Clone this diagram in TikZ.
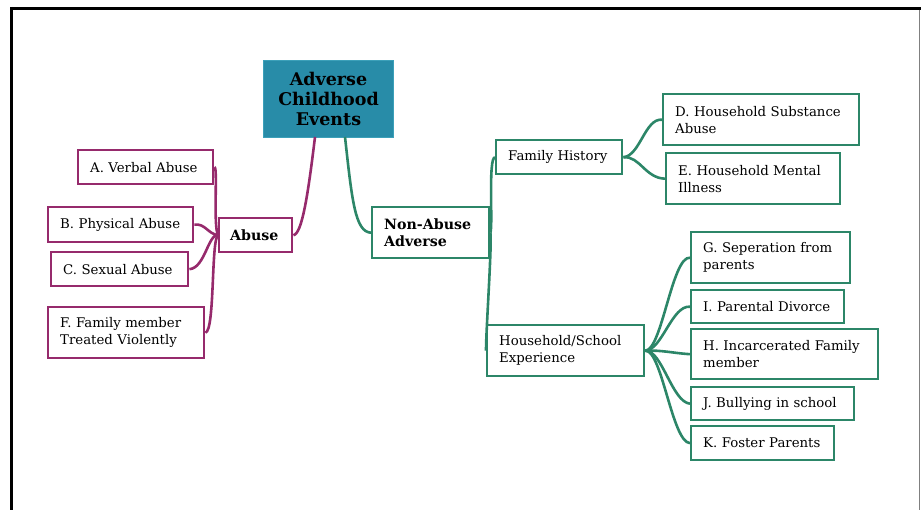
\documentclass[tikz,border=0pt]{standalone}
\usepackage{fontspec}
\setmainfont{DejaVu Serif}
\definecolor{purp}{RGB}{150,42,108}
\definecolor{grn}{RGB}{44,134,104}
\definecolor{teal1}{RGB}{40,140,168}
\definecolor{teal2}{RGB}{60,160,185}
\newcommand{\regf}{\fontsize{13.3}{17}\selectfont}
\newcommand{\boldf}{\fontsize{14.2}{17}\selectfont\bfseries}
\newcommand{\rootf}{\fontsize{17.5}{20}\selectfont\bfseries}
\tikzset{
  pbox/.style={draw=purp, line width=2.4pt, fill=white, inner xsep=12pt, inner ysep=0pt, align=left, font=\regf, anchor=north west},
  gbox/.style={draw=grn, line width=2.4pt, fill=white, inner xsep=12pt, inner ysep=0pt, align=left, font=\regf, anchor=north west},
  pline/.style={draw=purp, line width=2.6pt},
  gline/.style={draw=grn, line width=2.6pt},
}
\begin{document}
\begin{tikzpicture}[x=1pt,y=-1pt]
\useasboundingbox (0,0) rectangle (921,510);
% frame
\draw[line width=3pt] (10,8.5) -- (921,8.5);
\draw[line width=3pt] (11.5,7) -- (11.5,510);
\draw[gray, line width=1.5pt] (919.5,10) -- (919.5,510);

\coordinate (rs1) at (315,137);
\coordinate (rs2) at (345,137);

% nodes
\node[draw=teal2, fill=teal1, line width=1pt, minimum width=130pt, minimum height=77pt, anchor=north west, align=center, font=\rootf, inner sep=0pt] (root) at (263,60) {Adverse\\Childhood\\Events};

\node[pbox, minimum width=135pt, minimum height=34pt, text width=111pt] (A) at (77,149) {A. Verbal Abuse};
\node[pbox, minimum width=145pt, minimum height=35pt, text width=121pt] (B) at (47,206) {B. Physical Abuse};
\node[pbox, minimum width=137pt, minimum height=34pt, text width=113pt] (C) at (50,251) {C. Sexual Abuse};
\node[pbox, minimum width=156pt, minimum height=51pt, text width=132pt] (F) at (47,306) {F. Family member\\Treated Violently};
\node[pbox, minimum width=73pt, minimum height=34pt, text width=51pt, inner xsep=11pt, font=\boldf] (abuse) at (218,217) {Abuse};

\node[gbox, minimum width=117pt, minimum height=51pt, text width=93pt, font=\boldf] (nonab) at (371,206) {Non-Abuse\\Adverse};
\node[gbox, minimum width=126pt, minimum height=34pt, text width=102pt] (fh) at (495,139) {Family History};
\node[gbox, minimum width=196pt, minimum height=51pt, text width=172pt] (D) at (662,93) {D. Household Substance\\Abuse};
\node[gbox, minimum width=174pt, minimum height=51pt, text width=150pt] (E) at (665,152) {E. Household Mental\\Illness};
\node[gbox, minimum width=157pt, minimum height=51pt, text width=133pt] (hs) at (486,324) {Household/School\\Experience};
\node[gbox, minimum width=159pt, minimum height=51pt, text width=135pt] (G) at (690,231) {G. Seperation from\\parents};
\node[gbox, minimum width=153pt, minimum height=33pt, text width=129pt] (I) at (690,289) {I. Parental Divorce};
\node[gbox, minimum width=187pt, minimum height=50pt, text width=163pt] (H) at (690,328) {H. Incarcerated Family\\member};
\node[gbox, minimum width=163pt, minimum height=33pt, text width=139pt] (J) at (690,386) {J. Bullying in school};
\node[gbox, minimum width=143pt, minimum height=34pt, text width=119pt] (K) at (690,425) {K. Foster Parents};

% connectors
\draw[pline] (rs1) .. controls (308,195) and (302,234) .. (abuse.east);
\draw[gline] (rs2) .. controls (352,200) and (355,232) .. (nonab.west);

\draw[pline] (A.east) .. controls (218,166) and (213,225) .. (abuse.west);
\draw[pline] (B.east) .. controls (205,223) and (208,234) .. (abuse.west);
\draw[pline] (C.east) .. controls (205,268) and (208,234) .. (abuse.west);
\draw[pline] (F.east) .. controls (215,331) and (211,240) .. (abuse.west);

\draw[gline] (nonab.east) .. controls (493,225) and (488,158) .. (fh.west);
\draw[gline] (nonab.east) .. controls (492,245) and (486,330) .. (hs.west);

\draw[gline] (fh.east) .. controls (640,156) and (645,118) .. (D.west);
\draw[gline] (fh.east) .. controls (640,156) and (645,178) .. (E.west);

\draw[gline] (hs.east) .. controls (662,350) and (672,256) .. (G.west);
\draw[gline] (hs.east) .. controls (662,350) and (672,305) .. (I.west);
\draw[gline] (hs.east) .. controls (662,350) and (672,353) .. (H.west);
\draw[gline] (hs.east) .. controls (662,350) and (672,402) .. (J.west);
\draw[gline] (hs.east) .. controls (662,350) and (672,442) .. (K.west);
\end{tikzpicture}
\end{document}
